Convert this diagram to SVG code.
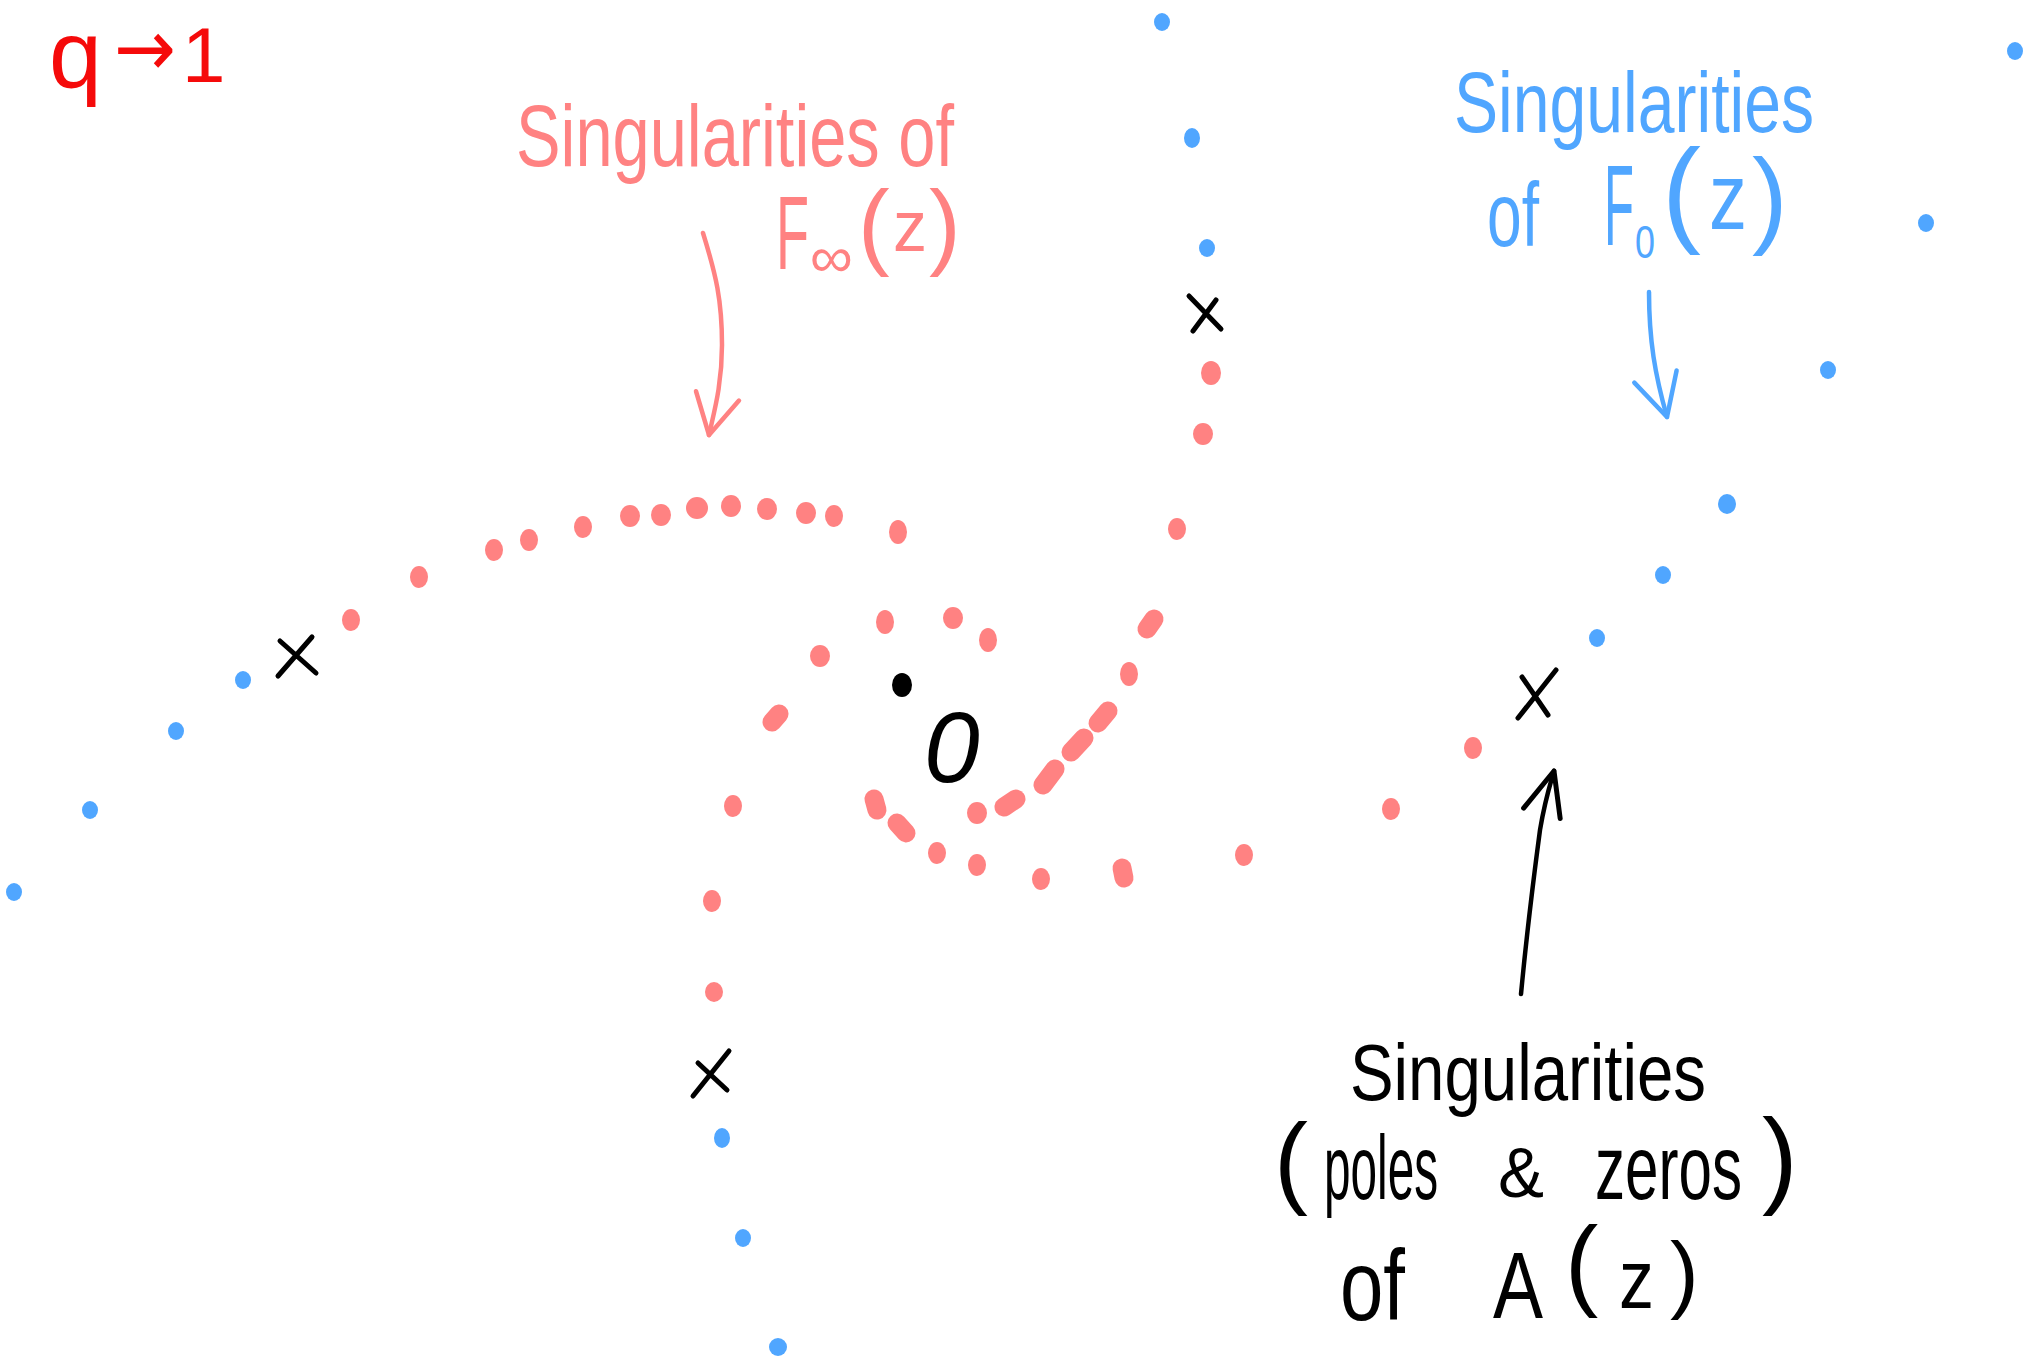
<svg xmlns="http://www.w3.org/2000/svg" width="2039" height="1372" viewBox="0 0 2039 1372">
<style>
.pd{fill:#ff8282}
.bd{fill:#50a6ff}
.pl{stroke:#ff8282;stroke-width:19;stroke-linecap:round;fill:none}
.xm{stroke:#000;stroke-width:5;stroke-linecap:round;fill:none}
.hand{font-family:"Liberation Sans","DejaVu Sans",sans-serif}
.red{fill:#f50a0a}
.pink{fill:#ff8282}
.blue{fill:#50a6ff}
.blk{fill:#000}
.arr{fill:none;stroke-width:4.5;stroke-linecap:round;stroke-linejoin:round}
</style>
<defs>
<marker id="hp" viewBox="-3 -3 48 50" markerWidth="48" markerHeight="50" refX="40" refY="22" orient="auto" markerUnits="userSpaceOnUse" overflow="visible">
<path d="M0,0 L40,22 L0,44" fill="none" stroke="#ff8282" stroke-width="4.5" stroke-linecap="round" stroke-linejoin="round"/>
</marker>
<marker id="hb" viewBox="-3 -3 48 50" markerWidth="48" markerHeight="50" refX="42" refY="22" orient="auto" markerUnits="userSpaceOnUse" overflow="visible">
<path d="M0,0 L42,22 L0,44" fill="none" stroke="#50a6ff" stroke-width="4.5" stroke-linecap="round" stroke-linejoin="round"/>
</marker>
<marker id="hk" viewBox="-3 -3 50 44" markerWidth="50" markerHeight="44" refX="44" refY="19" orient="auto" markerUnits="userSpaceOnUse" overflow="visible">
<path d="M0,0 L44,19 L0,38" fill="none" stroke="#000" stroke-width="5" stroke-linecap="round" stroke-linejoin="round"/>
</marker>
</defs>
<rect width="2039" height="1372" fill="#fff"/>

<g id="title-q-to-1">
<text class="hand red"><tspan x="49" y="87" font-size="95">q</tspan><tspan x="114" y="76" font-size="80" font-family="DejaVu Sans,sans-serif" textLength="62" lengthAdjust="spacingAndGlyphs">→</tspan><tspan x="182" y="82" font-size="78">1</tspan></text>
</g>

<g id="label-F-infinity">
<text class="hand pink"><tspan x="516" y="166" font-size="88" textLength="438" lengthAdjust="spacingAndGlyphs">Singularities of</tspan><tspan x="776" y="269" font-size="104" textLength="33" lengthAdjust="spacingAndGlyphs">F</tspan><tspan x="810" y="277" font-size="58" textLength="43" lengthAdjust="spacingAndGlyphs">∞</tspan><tspan x="858" y="257" font-size="95">(</tspan><tspan x="893" y="251" font-size="72" textLength="34" lengthAdjust="spacingAndGlyphs">z</tspan><tspan x="929" y="257" font-size="95">)</tspan></text>
</g>

<g id="label-F-zero">
<text class="hand blue"><tspan x="1454" y="132" font-size="86" textLength="360" lengthAdjust="spacingAndGlyphs">Singularities</tspan><tspan x="1487" y="246" font-size="90" textLength="52" lengthAdjust="spacingAndGlyphs">of</tspan><tspan x="1604" y="245" font-size="115" textLength="30" lengthAdjust="spacingAndGlyphs">F</tspan><tspan x="1635" y="258" font-size="46" textLength="20" lengthAdjust="spacingAndGlyphs">0</tspan><tspan x="1662" y="231" font-size="117">(</tspan><tspan x="1709" y="229" font-size="94" textLength="38" lengthAdjust="spacingAndGlyphs">z</tspan><tspan x="1752" y="234" font-size="107">)</tspan></text>
</g>

<g id="label-A">
<text class="hand blk"><tspan x="1350" y="1100" font-size="80" textLength="356" lengthAdjust="spacingAndGlyphs">Singularities</tspan><tspan x="1274" y="1195" font-size="102">(</tspan><tspan x="1324" y="1199" font-size="90" textLength="114" lengthAdjust="spacingAndGlyphs">poles</tspan><tspan x="1498" y="1197" font-size="70" textLength="46" lengthAdjust="spacingAndGlyphs">&amp;</tspan><tspan x="1595" y="1199" font-size="90" textLength="147" lengthAdjust="spacingAndGlyphs">zeros</tspan><tspan x="1762" y="1194" font-size="107">)</tspan><tspan x="1340" y="1320" font-size="100" textLength="65" lengthAdjust="spacingAndGlyphs">of</tspan><tspan x="1493" y="1318" font-size="94" textLength="50" lengthAdjust="spacingAndGlyphs">A</tspan><tspan x="1565" y="1297" font-size="100">(</tspan><tspan x="1619" y="1308" font-size="84" textLength="35" lengthAdjust="spacingAndGlyphs">z</tspan><tspan x="1670" y="1302" font-size="86">)</tspan></text>
</g>

<g id="origin">
<ellipse cx="902" cy="685" rx="10" ry="12" fill="#000"/>
<text class="hand blk" x="924" y="782" font-size="100" font-style="italic">0</text>
</g>

<g id="singularities-A">
<path class="xm" d="M280,641 L316,673 M312,637 L278,676"/>
<path class="xm" d="M1189,296 L1221,329 M1216,300 L1193,331"/>
<path class="xm" d="M698,1063 L727,1090 M729,1051 L693,1096"/>
<path class="xm" d="M1522,677 L1548,715 M1556,670 L1518,718"/>
</g>

<g id="singularities-F-infinity">
<ellipse class="pd" cx="351" cy="620" rx="9" ry="11"/>
<ellipse class="pd" cx="419" cy="577" rx="9" ry="11"/>
<ellipse class="pd" cx="494" cy="550" rx="9" ry="11"/>
<ellipse class="pd" cx="529" cy="540" rx="9" ry="11"/>
<ellipse class="pd" cx="583" cy="527" rx="9" ry="11"/>
<ellipse class="pd" cx="630" cy="516" rx="10" ry="11"/>
<ellipse class="pd" cx="661" cy="515" rx="10" ry="11"/>
<ellipse class="pd" cx="697" cy="508" rx="11" ry="11"/>
<ellipse class="pd" cx="731" cy="506" rx="10" ry="11"/>
<ellipse class="pd" cx="767" cy="509" rx="10" ry="11"/>
<ellipse class="pd" cx="806" cy="513" rx="10" ry="11"/>
<ellipse class="pd" cx="834" cy="516" rx="9" ry="11"/>
<ellipse class="pd" cx="898" cy="532" rx="9" ry="12"/>
<ellipse class="pd" cx="885" cy="622" rx="9" ry="12"/>
<ellipse class="pd" cx="953" cy="618" rx="10" ry="11"/>
<ellipse class="pd" cx="988" cy="640" rx="9" ry="12"/>
<ellipse class="pd" cx="820" cy="656" rx="10" ry="11"/>
<line class="pl" x1="772" y1="722" x2="779" y2="714"/>
<ellipse class="pd" cx="733" cy="806" rx="9" ry="11"/>
<line class="pl" x1="874" y1="799" x2="877" y2="810"/>
<line class="pl" x1="897" y1="823" x2="906" y2="833"/>
<ellipse class="pd" cx="937" cy="853" rx="9" ry="11"/>
<ellipse class="pd" cx="977" cy="865" rx="9" ry="11"/>
<ellipse class="pd" cx="1041" cy="879" rx="9" ry="11"/>
<line class="pl" x1="1122" y1="868" x2="1124" y2="878"/>
<ellipse class="pd" cx="1244" cy="855" rx="9" ry="11"/>
<ellipse class="pd" cx="977" cy="813" rx="10" ry="11"/>
<line class="pl" x1="1004" y1="807" x2="1016" y2="799"/>
<line class="pl" x1="1043" y1="785" x2="1055" y2="769"/>
<line class="pl" x1="1071" y1="752" x2="1084" y2="738"/>
<line class="pl" x1="1098" y1="723" x2="1108" y2="711"/>
<ellipse class="pd" cx="1129" cy="674" rx="9" ry="12"/>
<line class="pl" x1="1147" y1="629" x2="1154" y2="619"/>
<ellipse class="pd" cx="1177" cy="529" rx="9" ry="11"/>
<ellipse class="pd" cx="1203" cy="434" rx="10" ry="11"/>
<ellipse class="pd" cx="1211" cy="373" rx="10" ry="12"/>
<ellipse class="pd" cx="712" cy="901" rx="9" ry="11"/>
<ellipse class="pd" cx="714" cy="992" rx="9" ry="10"/>
<ellipse class="pd" cx="1391" cy="809" rx="9" ry="11"/>
<ellipse class="pd" cx="1473" cy="748" rx="9" ry="11"/>
</g>

<g id="singularities-F-zero">
<ellipse class="bd" cx="1162" cy="22" rx="8" ry="9"/>
<ellipse class="bd" cx="1192" cy="138" rx="8" ry="10"/>
<ellipse class="bd" cx="1207" cy="248" rx="8" ry="9"/>
<ellipse class="bd" cx="2015" cy="51" rx="8" ry="9"/>
<ellipse class="bd" cx="1926" cy="223" rx="8" ry="9"/>
<ellipse class="bd" cx="1828" cy="370" rx="8" ry="9"/>
<ellipse class="bd" cx="1727" cy="504" rx="9" ry="10"/>
<ellipse class="bd" cx="1663" cy="575" rx="8" ry="9"/>
<ellipse class="bd" cx="1597" cy="638" rx="8" ry="9"/>
<ellipse class="bd" cx="243" cy="680" rx="8" ry="9"/>
<ellipse class="bd" cx="176" cy="731" rx="8" ry="9"/>
<ellipse class="bd" cx="90" cy="810" rx="8" ry="9"/>
<ellipse class="bd" cx="14" cy="892" rx="8" ry="9"/>
<ellipse class="bd" cx="722" cy="1138" rx="8" ry="10"/>
<ellipse class="bd" cx="743" cy="1238" rx="8" ry="9"/>
<ellipse class="bd" cx="778" cy="1347" rx="9" ry="9"/>
</g>

<g id="connectors">
<path class="arr" stroke="#ff8282" marker-end="url(#hp)" d="M703,233 C716,275 722,300 722,345 C722,385 714,412 709,435"/>
<path class="arr" stroke="#50a6ff" marker-end="url(#hb)" d="M1649,292 C1649,340 1655,375 1667,417"/>
<path class="arr" stroke="#000" stroke-width="5" marker-end="url(#hk)" d="M1521,994 C1528,920 1536,860 1540,830 C1545,800 1550,785 1554,771"/>
</g>
</svg>
